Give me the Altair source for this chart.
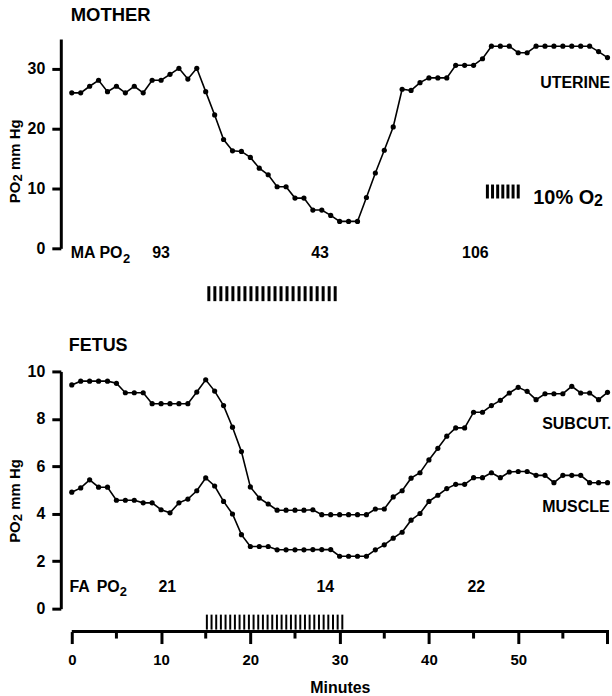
import altair as alt
import pandas as pd

# ---------------- data ----------------
minutes = list(range(61))

uterine = [26.0, 26.0, 27.1, 28.1, 26.2, 27.1, 26.0, 27.1, 26.0, 28.1,
           28.1, 29.1, 30.1, 28.3, 30.1, 26.2, 22.3, 18.2, 16.3, 16.2,
           15.2, 13.4, 12.3, 10.3, 10.3, 8.4, 8.4, 6.4, 6.4, 5.5,
           4.5, 4.5, 4.5, 8.5, 12.6, 16.4, 20.3, 26.6, 26.4, 27.7,
           28.5, 28.5, 28.5, 30.6, 30.6, 30.6, 31.7, 33.8, 33.8, 33.8,
           32.7, 32.7, 33.8, 33.8, 33.8, 33.8, 33.8, 33.8, 33.8, 32.9,
           31.9]

subcut = [9.43, 9.59, 9.59, 9.59, 9.59, 9.50, 9.10, 9.10, 9.10, 8.64,
          8.64, 8.64, 8.64, 8.64, 9.13, 9.65, 9.17, 8.56, 7.65, 6.62,
          5.13, 4.66, 4.41, 4.15, 4.15, 4.15, 4.15, 4.17, 3.96, 3.96,
          3.96, 3.96, 3.96, 3.96, 4.20, 4.20, 4.71, 4.97, 5.50, 5.73,
          6.27, 6.76, 7.27, 7.62, 7.62, 8.28, 8.28, 8.56, 8.78, 9.09,
          9.33, 9.16, 8.81, 9.06, 9.06, 9.06, 9.37, 9.09, 9.09, 8.81,
          9.12]

muscle = [4.91, 5.09, 5.43, 5.12, 5.12, 4.57, 4.57, 4.57, 4.46, 4.46,
          4.17, 4.04, 4.46, 4.62, 4.97, 5.51, 5.17, 4.52, 3.99, 3.12,
          2.62, 2.62, 2.62, 2.48, 2.48, 2.48, 2.48, 2.49, 2.49, 2.49,
          2.21, 2.21, 2.21, 2.21, 2.48, 2.69, 2.97, 3.22, 3.73, 4.01,
          4.52, 4.78, 5.06, 5.24, 5.24, 5.52, 5.52, 5.73, 5.52, 5.76,
          5.78, 5.78, 5.62, 5.62, 5.31, 5.62, 5.62, 5.62, 5.31, 5.31,
          5.31]

x_ticks = [0, 10, 20, 30, 40, 50, 60]
x_minor = [5, 15, 25, 35, 45, 55]
top_y_ticks = [0, 10, 20, 30]
bot_y_ticks = [0, 2, 4, 6, 8, 10]

ma_labels = ["93", "43", "106"]
ma_pos = [10.0, 27.8, 45.2]
fa_labels = ["21", "14", "22"]
fa_pos = [10.7, 28.4, 45.3]

# 10% O2 period hatch marks (decoration)
hatch_top = [round(15.35 + i * (29.5 - 15.35) / 21, 3) for i in range(22)]
hatch_bot = [round(15.13 + i * (30.3 - 15.13) / 29, 3) for i in range(30)]
legend_hatch = [round(46.55 + i * (50.0 - 46.55) / 6, 3) for i in range(7)]

# ---------------- style ----------------
FONT = "Liberation Sans"
XDOM = [-1.23, 60.17]
W = 550
H_TOP = 210
H_BOT = 238

xscale = alt.Scale(domain=XDOM, nice=False, zero=False)


def yaxis(values):
    return alt.Axis(values=values, title="", grid=False,
                    labelFont=FONT, labelFontSize=16, labelFontWeight="bold",
                    labelColor="black", labelPadding=7,
                    tickSize=9, tickWidth=3, tickColor="black",
                    domainColor="black", domainWidth=3)


xaxis_bot = alt.Axis(values=x_ticks, domain=False, grid=False, offset=23,
                     tickSize=12, tickWidth=3, tickColor="black",
                     labelFont=FONT, labelFontSize=15, labelFontWeight="bold",
                     labelColor="black", labelPadding=9,
                     labelExpr="datum.value == 60 ? '' : datum.label",
                     title="Minutes", titleFont=FONT, titleFontSize=16,
                     titleFontWeight="bold", titleColor="black",
                     titleX=280, titleY=61, titleBaseline="alphabetic")


def xt(field):
    return alt.X(field, type="quantitative", scale=xscale, axis=None)


def xb(field):
    return alt.X(field, type="quantitative", scale=xscale, axis=xaxis_bot)


def txt(s, x, y, size=16, align="left", baseline="middle", weight="bold", angle=0):
    kw = dict(font=FONT, fontSize=size, fontWeight=weight, color="black",
              align=align, baseline=baseline)
    if angle:
        kw["angle"] = angle
    return alt.Chart(pd.DataFrame({"t": [s]})).mark_text(**kw).encode(
        x=alt.value(x), y=alt.value(y), text="t:N")


def ytitle(y0):
    # rotated "PO2 mm Hg" with a true subscript 2
    return [
        txt("PO", -41.3, y0, size=15, baseline="alphabetic", angle=270),
        txt("2", -38.5, y0 - 21.7, size=13, baseline="alphabetic", angle=270),
        txt("mm Hg", -41.3, y0 - 33.3, size=15, baseline="alphabetic", angle=270),
    ]


# ---------------- top panel: MOTHER ----------------
mother_df = pd.DataFrame({"min": minutes, "po2": uterine})
ytop = alt.Y("po2:Q", scale=alt.Scale(domain=[0, 35], nice=False, zero=True),
             axis=yaxis(top_y_ticks))

top_line = alt.Chart(mother_df).mark_line(color="black", strokeWidth=1.6).encode(
    x=xt("min"), y=ytop)
top_pts = alt.Chart(mother_df).mark_circle(color="black", size=27, opacity=1).encode(
    x=xt("min"), y=ytop)

ma_df = pd.DataFrame({"pos": ma_pos, "lab": ma_labels})
top_nums = alt.Chart(ma_df).mark_text(
    font=FONT, fontSize=16, fontWeight="bold", color="black",
    align="center", baseline="alphabetic").encode(
    x=xt("pos"), y=alt.value(220), text="lab:N")

top_hatch = alt.Chart(pd.DataFrame({"h": hatch_top})).mark_rule(
    color="black", strokeWidth=3).encode(
    x=xt("h"), y=alt.value(248), y2=alt.value(263))

leg_hatch = alt.Chart(pd.DataFrame({"h": legend_hatch})).mark_rule(
    color="black", strokeWidth=3).encode(
    x=xt("h"), y=alt.value(146), y2=alt.value(160))

top = alt.layer(
    top_line, top_pts, top_nums, top_hatch, leg_hatch,
    *ytitle(164.7),
    txt("MOTHER", 10, -23.7, size=18.5),
    txt("MA PO", 10, 220, size=16, baseline="alphabetic"),
    txt("2", 62.4, 224.3, size=13, baseline="alphabetic"),
    txt("UTERINE", 481, 44, size=16),
    txt("10% O", 474, 165.7, size=20, baseline="alphabetic"),
    txt("2", 535, 167.3, size=16, baseline="alphabetic"),
).properties(width=W, height=H_TOP)

# ---------------- bottom panel: FETUS ----------------
fetus_df = pd.DataFrame({
    "min": minutes * 2,
    "po2": subcut + muscle,
    "series": ["SUBCUT."] * len(minutes) + ["MUSCLE"] * len(minutes),
})
ybot = alt.Y("po2:Q", scale=alt.Scale(domain=[0, 10], nice=False, zero=True),
             axis=yaxis(bot_y_ticks))

bot_line = alt.Chart(fetus_df).mark_line(color="black", strokeWidth=1.6).encode(
    x=xb("min"), y=ybot, detail="series:N")
bot_pts = alt.Chart(fetus_df).mark_circle(color="black", size=27, opacity=1).encode(
    x=xb("min"), y=ybot, detail="series:N")

fa_df = pd.DataFrame({"pos": fa_pos, "lab": fa_labels})
bot_nums = alt.Chart(fa_df).mark_text(
    font=FONT, fontSize=16, fontWeight="bold", color="black",
    align="center", baseline="alphabetic").encode(
    x=xb("pos"), y=alt.value(221), text="lab:N")

bot_hatch = alt.Chart(pd.DataFrame({"h": hatch_bot})).mark_rule(
    color="black", strokeWidth=2).encode(
    x=xb("h"), y=alt.value(244), y2=alt.value(259))

axis_line = alt.Chart(pd.DataFrame({"a": [0], "b": [XDOM[1]]})).mark_rule(
    color="black", strokeWidth=3).encode(
    x=xb("a"), x2="b:Q", y=alt.value(261))

minor_ticks = alt.Chart(pd.DataFrame({"m": x_minor})).mark_rule(
    color="black", strokeWidth=3).encode(
    x=xb("m"), y=alt.value(261), y2=alt.value(268))

bottom = alt.layer(
    bot_line, bot_pts, bot_nums, bot_hatch, axis_line, minor_ticks,
    *ytitle(172),
    txt("FETUS", 8, -25.5, size=18),
    txt("FA", 8.7, 221, size=16, baseline="alphabetic"),
    txt("PO", 36, 221, size=16, baseline="alphabetic"),
    txt("2", 59.1, 225.3, size=13, baseline="alphabetic"),
    txt("SUBCUT.", 483, 53, size=16),
    txt("MUSCLE", 483, 136, size=16),
).properties(width=W, height=H_BOT)

chart = alt.vconcat(top, bottom, spacing=33.5).properties(
    padding={"left": 7, "top": 4, "right": 0, "bottom": 0},
    background="white",
).configure_view(stroke="transparent")

chart.save("out.html", embed_options={"renderer": "svg", "actions": False})
